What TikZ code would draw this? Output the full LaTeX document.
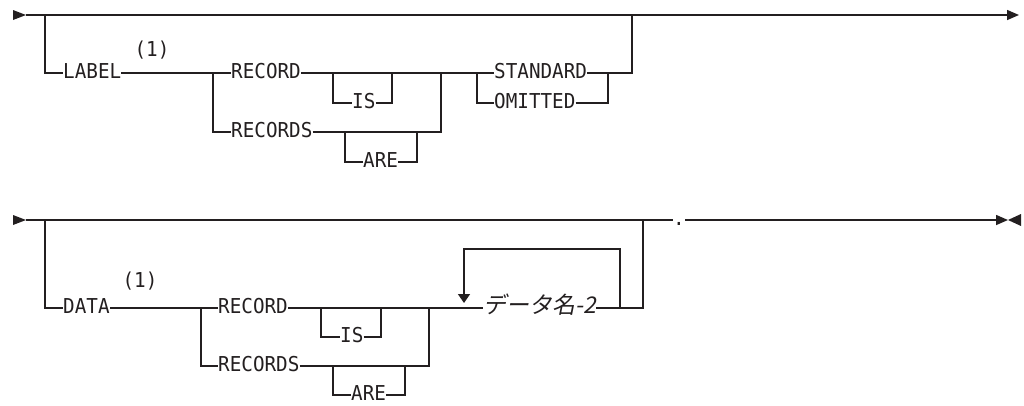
\documentclass[tikz,border=0pt]{standalone}
\usepackage{fontspec}
\setmonofont[FakeStretch=0.94]{DejaVu Sans Mono}
\newfontfamily\jpfont[FakeSlant=0.2]{Noto Sans CJK JP}
\usetikzlibrary{arrows.meta,positioning,calc}
\definecolor{railink}{HTML}{231F20}
\tikzset{
  kwnode/.style={
    inner sep=0pt,
    text height=15pt,
    text depth=5pt,
    font=\ttfamily\fontsize{20.5}{24}\selectfont,
    text=railink
  },
  notenode/.style={
    inner sep=0pt,
    font=\ttfamily\fontsize{20.5}{24}\selectfont,
    text=railink
  },
  varnode/.style={
    inner sep=0pt,
    text height=15pt,
    text depth=5pt,
    font=\jpfont\fontsize{23}{27}\selectfont,
    text=railink
  },
  railline/.style={line width=1.5pt,draw=railink},
  railend/.style={railline,-{Triangle[width=10pt,length=12pt]}},
  looptip/.style={railline,-{Triangle[width=12pt,length=9pt]}}
}

\begin{document}
\begin{tikzpicture}[x=1pt,y=-1pt]
  \useasboundingbox (0,0) rectangle (1024,405);
  % LABEL RECORD clause
  \fill[railink] (13,10) -- (26,15) -- (13,20) -- cycle;
  \coordinate (s1) at (26,15);
  \coordinate (e1) at (1019,15);
  \coordinate (j1) at (45,15);
  \coordinate (j2) at (213,73);
  \coordinate (j3) at (333,73);
  \coordinate (j4) at (392,73);
  \coordinate (j5) at (441,73);
  \coordinate (j6) at (345,132);
  \coordinate (j7) at (417,132);
  \coordinate (j8) at (477,73);
  \coordinate (j9) at (608,73);
  \coordinate (j10) at (632,15);
  \node[kwnode, anchor=west] (label) at (63,73) {LABEL};
  \node[notenode] (note1) at (152,50) {(1)};
  \node[kwnode, anchor=west] (rec1) at (231,73) {RECORD};
  \node[kwnode, anchor=west] (recs1) at (231,132) {RECORDS};
  \node[kwnode, anchor=west] (is1) at (352,103) {IS};
  \node[kwnode, anchor=west] (are1) at (363,162) {ARE};
  \node[kwnode, anchor=west] (std) at (494,73) {STANDARD};
  \node[kwnode, anchor=west] (omit) at (494,103) {OMITTED};
  \draw[railend] (s1) -- (e1);
  \draw[railline] (j1) |- (label.west);
  \draw[railline] (label.east) -- (rec1.west);
  \draw[railline] (j2) |- (recs1.west);
  \draw[railline] (rec1.east) -- (std.west);
  \draw[railline] (j3) |- (is1.west);
  \draw[railline] (is1.east) -| (j4);
  \draw[railline] (recs1.east) -| (j5);
  \draw[railline] (j6) |- (are1.west);
  \draw[railline] (are1.east) -| (j7);
  \draw[railline] (j8) |- (omit.west);
  \draw[railline] (omit.east) -| (j9);
  \draw[railline] (std.east) -| (j10);

  % DATA RECORD clause
  \fill[railink] (13,215) -- (26,220) -- (13,225) -- cycle;
  \fill[railink] (1021,214) -- (1008,220) -- (1021,226) -- cycle;
  \coordinate (s2) at (26,220);
  \coordinate (e2) at (1008,220);
  \coordinate (k1) at (45,220);
  \coordinate (k2) at (201,308);
  \coordinate (k3) at (321,308);
  \coordinate (k4) at (381,308);
  \coordinate (k5) at (429,308);
  \coordinate (k6) at (333,366);
  \coordinate (k7) at (405,366);
  \coordinate (k8) at (620,308);
  \coordinate (k9) at (464,249);
  \coordinate (k10) at (464,303);
  \coordinate (k11) at (643,220);
  \node[kwnode, anchor=west] (data) at (63,308) {DATA};
  \node[notenode] (note2) at (140,281) {(1)};
  \node[kwnode, anchor=west] (rec2) at (218,308) {RECORD};
  \node[kwnode, anchor=west] (recs2) at (218,366) {RECORDS};
  \node[kwnode, anchor=west] (is2) at (340,337) {IS};
  \node[kwnode, anchor=west] (are2) at (351,395) {ARE};
  \node[varnode, anchor=west] (dname) at (483,308) {データ名-2};
  \node[kwnode, anchor=west] (stop) at (673,220) {.};
  \draw[railline] (s2) -- (stop.west);
  \draw[railend] (stop.east) -- (e2);
  \draw[railline] (k1) |- (data.west);
  \draw[railline] (data.east) -- (rec2.west);
  \draw[railline] (k2) |- (recs2.west);
  \draw[railline] (rec2.east) -- (dname.west);
  \draw[railline] (k3) |- (is2.west);
  \draw[railline] (is2.east) -| (k4);
  \draw[railline] (recs2.east) -| (k5);
  \draw[railline] (k6) |- (are2.west);
  \draw[railline] (are2.east) -| (k7);
  \draw[looptip] (k8) |- (k9) -- (k10);
  \draw[railline] (dname.east) -| (k11);
\end{tikzpicture}
\end{document}
